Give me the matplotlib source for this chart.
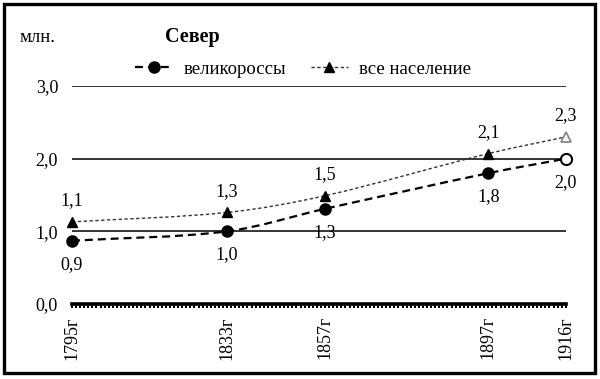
import numpy as np
import matplotlib
matplotlib.use("Agg")
from matplotlib import pyplot as plt
from matplotlib.path import Path
from matplotlib.patches import PathPatch, Rectangle
from matplotlib.lines import Line2D
from matplotlib.ticker import MultipleLocator, FixedLocator

plt.rcParams['font.family'] = ['Liberation Serif', 'DejaVu Serif']

years = [1795, 1833, 1857, 1897, 1916]
year_labels = ['1795г', '1833г', '1857г', '1897г', '1916г']
velikorossy = [0.87, 1.0, 1.31, 1.8, 2.0]
vse = [1.13, 1.26, 1.49, 2.07, 2.3]
name_v = 'великороссы'
name_all = 'все население'


def smooth_path(xs, ys, a=1/3):
    # Bezier curve through the points (like Excel "smoothed line")
    p = np.column_stack([xs, ys]).astype(float)
    n = len(p)
    c_out = np.zeros_like(p)
    c_in = np.zeros_like(p)
    for i in range(n):
        if i == 0:
            c_out[i] = p[0] + (p[1] - p[0]) * a
        elif i == n - 1:
            c_in[i] = p[i] - (p[i] - p[i - 1]) * a
        else:
            dp = p[i][0] - p[i - 1][0]
            dn = p[i + 1][0] - p[i][0]
            t = p[i + 1] - p[i - 1]
            c_out[i] = p[i] + t * a * dn / (dp + dn)
            c_in[i] = p[i] - t * a * dp / (dp + dn)
    verts = [p[0]]
    codes = [Path.MOVETO]
    for i in range(n - 1):
        verts += [c_out[i], c_in[i + 1], p[i + 1]]
        codes += [Path.CURVE4] * 3
    return Path(verts, codes)


fig = plt.figure(figsize=(6, 3.79), dpi=100)
ax = fig.add_axes([0.12, 0.198, 0.823, 0.575])

all_style = dict(color='#333333', lw=1.0, linestyle=(0, (2.4, 1.8)))
v_style = dict(color='black', lw=1.6, linestyle=(0, (3.6, 2.2)))

# lines
ax.add_patch(PathPatch(smooth_path(years, vse), fill=False, edgecolor=all_style['color'],
                       lw=all_style['lw'], linestyle=all_style['linestyle'],
                       clip_on=False, zorder=3))
ax.add_patch(PathPatch(smooth_path(years, velikorossy), fill=False, edgecolor=v_style['color'],
                       lw=v_style['lw'], linestyle=v_style['linestyle'],
                       clip_on=False, zorder=3))

# markers (last point hollow)
ax.plot(years[:-1], vse[:-1], linestyle='none', marker='^', ms=7, color='black',
        clip_on=False, zorder=4)
ax.plot(years[-1:], vse[-1:], linestyle='none', marker='^', ms=7.5, mfc='white',
        mec='#888888', mew=1.3, clip_on=False, zorder=4)
ax.plot(years[:-1], velikorossy[:-1], linestyle='none', marker='o', ms=8, color='black',
        clip_on=False, zorder=4)
ax.plot(years[-1:], velikorossy[-1:], linestyle='none', marker='o', ms=8, mfc='white',
        mec='black', mew=1.5, clip_on=False, zorder=4)

# data labels
for x, y in zip(years, vse):
    ax.annotate(f'{y:.1f}'.replace('.', ','), (x, y), xytext=(0, 15), textcoords='offset points',
                ha='center', va='center', fontsize=13)
for x, y in zip(years, velikorossy):
    ax.annotate(f'{y:.1f}'.replace('.', ','), (x, y), xytext=(0, -17), textcoords='offset points',
                ha='center', va='center', fontsize=13)

ax.set_xlim(1795, 1916)
ax.set_ylim(0, 3)
ax.set_yticks([0, 1, 2, 3])
ax.set_yticklabels(['0,0', '1,0', '2,0', '3,0'])
ax.yaxis.grid(True, color='black', lw=1.1)
ax.set_axisbelow(True)
ax.xaxis.set_major_locator(FixedLocator(years))
ax.set_xticklabels(year_labels, rotation=90)
ax.xaxis.set_minor_locator(MultipleLocator(1))
ax.tick_params(axis='x', which='both', direction='out', length=2.8, width=1.5, pad=6,
               labelsize=13)
ax.tick_params(axis='y', length=0, pad=10, labelsize=13)
for s in ['left', 'right', 'top']:
    ax.spines[s].set_visible(False)
ax.spines['bottom'].set_linewidth(2.6)

# titles
fig.text(0.033, 0.902, 'млн.', fontsize=13.5, ha='left', va='center')
fig.text(0.275, 0.902, 'Север', fontsize=14.5, fontweight='bold', ha='left', va='center')

handles = [
    Line2D([], [], marker='o', ms=8, **v_style),
    Line2D([], [], marker='^', ms=7, mfc='black', mec='black', **all_style),
]
fig.legend(handles, [name_v, name_all], ncol=2, frameon=False, loc='center',
           bbox_to_anchor=(0.505, 0.818), fontsize=13.5, handlelength=2.0,
           columnspacing=1.3, handletextpad=0.6)

fig.patches.append(Rectangle((0.007, 0.017), 0.984, 0.972, transform=fig.transFigure,
                             fill=False, edgecolor='black', lw=2.4))

fig.savefig('out.png', dpi=100)
